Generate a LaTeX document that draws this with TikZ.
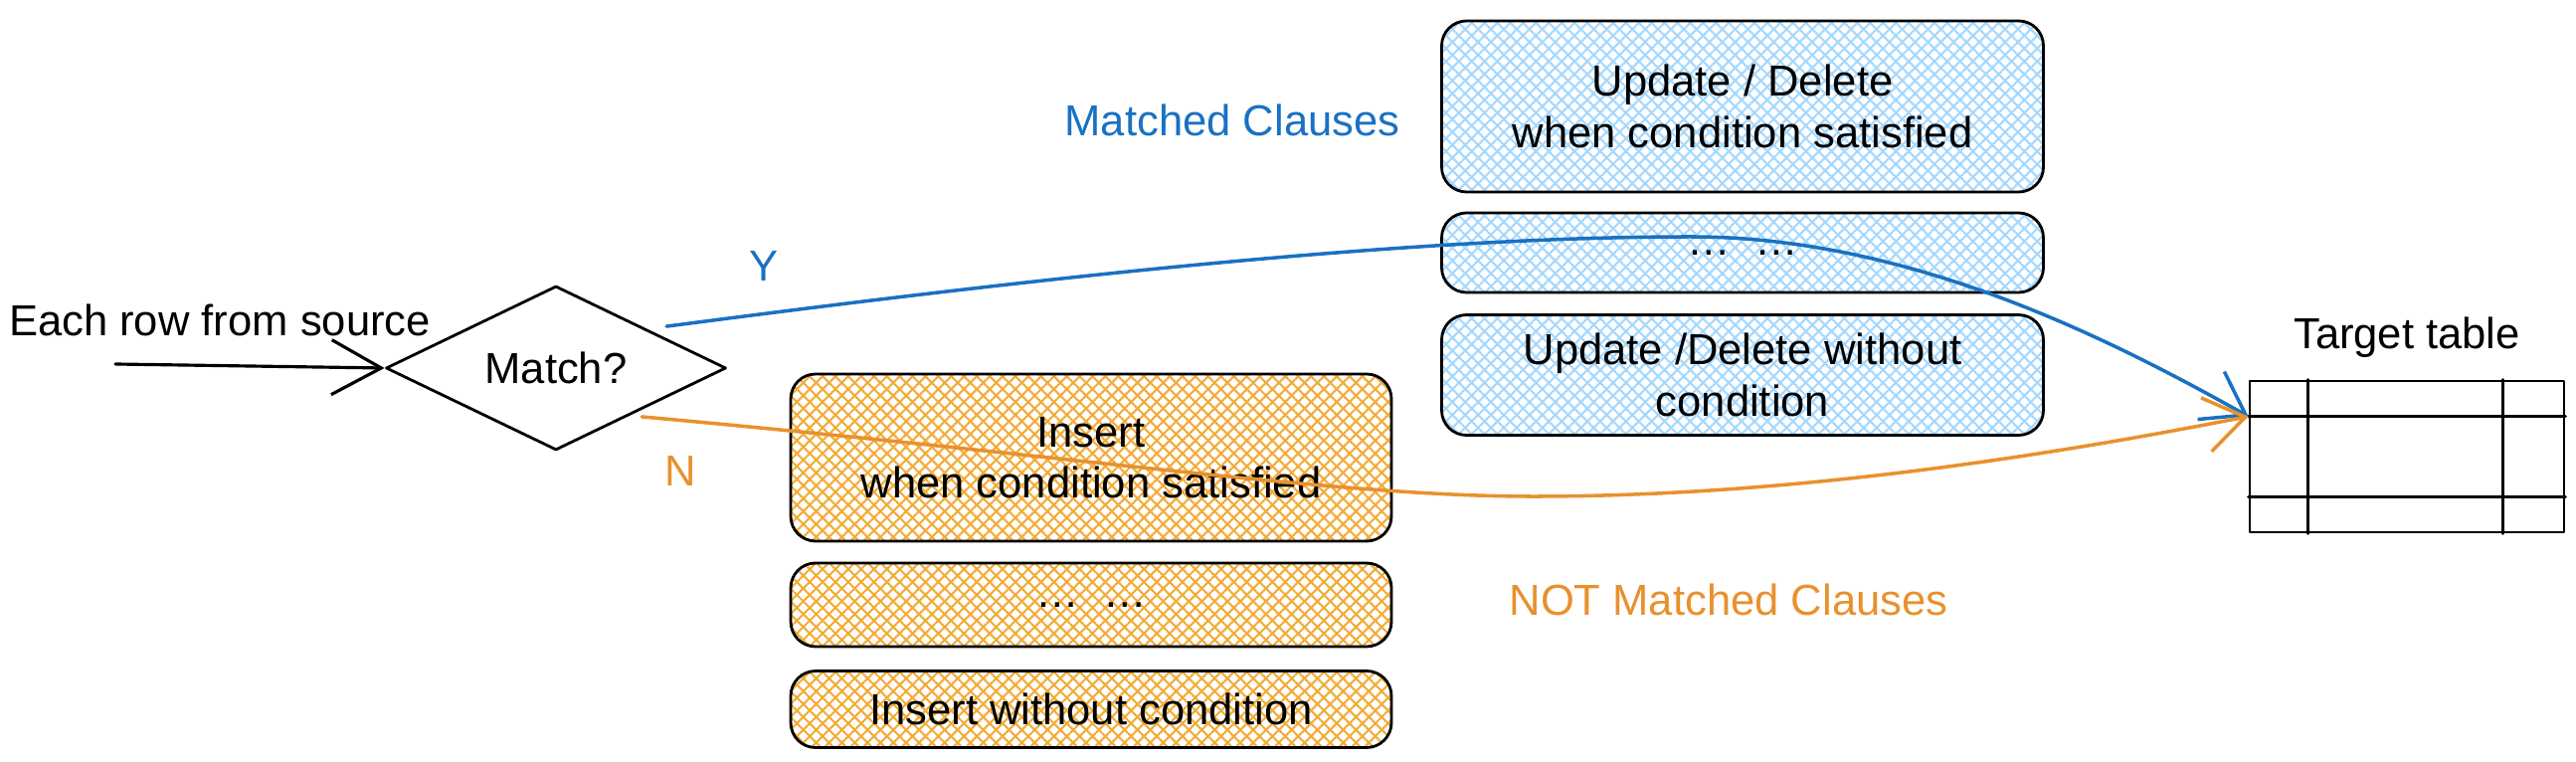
\documentclass[tikz,border=0pt]{standalone}
\usepackage{fontspec}
\setmainfont{Liberation Sans}
\usetikzlibrary{arrows.meta,patterns.meta,positioning,shapes.geometric}
\definecolor{clauseblue}{HTML}{1971C2}
\definecolor{clauseorange}{HTML}{E8912D}
\definecolor{hatchblue}{HTML}{A5D8FF}
\definecolor{hatchorange}{HTML}{F2AC38}

\tikzset{
  every node/.style={font=\fontsize{12.4}{14.6}\selectfont},
  sketch/.style={line width=0.8pt,line cap=round,line join=round},
  bluebox/.style={sketch,draw=black,rounded corners=0.25cm,align=center,
    pattern={Hatch[angle=45,distance=2.6pt,line width=0.6pt]},pattern color=hatchblue,
    minimum width=6.05cm,inner sep=0pt},
  orangebox/.style={bluebox,pattern color=hatchorange,minimum width=6.04cm},
  flowarrow/.style={line width=1pt,line cap=round,-{Straight Barb[length=4mm,width=5.5mm]}},
}

\begin{document}
\begin{tikzpicture}
  \useasboundingbox (0,0) rectangle (25.9,-7.66);
  % Decision
  \node[anchor=center] (srclbl) at (2.21,-3.22) {Each row from source};
  \coordinate (src) at (1.16,-3.66);
  \node[sketch,draw,diamond,aspect=2,minimum width=3.42cm,minimum height=1.65cm,inner sep=0pt] (match) at (5.59,-3.70) {Match?};
  \draw[flowarrow,line width=0.9pt,-{Straight Barb[length=5mm,width=5.5mm]}] (src) -- (match.west);
  % Matched clauses
  \node[clauseblue] (matchedlbl) at (12.39,-1.21) {Matched Clauses};
  \node[bluebox,minimum height=1.72cm] (upd1) at (17.52,-1.07) {Update / Delete\\when condition satisfied};
  \node[bluebox,minimum height=0.80cm] (upd2) at (17.52,-2.54) {\dots\ \ \dots};
  \node[bluebox,minimum height=1.21cm] (upd3) at (17.52,-3.77) {Update /Delete without\\condition};
  % Not matched clauses
  \node[orangebox,minimum height=1.68cm] (ins1) at (10.97,-4.60) {Insert\\when condition satisfied};
  \node[orangebox,minimum height=0.84cm] (ins2) at (10.97,-6.08) {\dots\ \ \dots};
  \node[orangebox,minimum height=0.77cm] (ins3) at (10.97,-7.13) {Insert without condition};
  \node[clauseorange] (notmatchedlbl) at (17.38,-6.03) {NOT Matched Clauses};
  % Target table
  \node[sketch,draw,minimum width=3.16cm,minimum height=1.52cm,inner sep=0pt] (target) at (24.20,-4.59) {};
  \node[above=0.1cm of target] (targetlbl) {Target table};
  \draw[sketch] ([xshift=0.60cm]target.north west) -- ([xshift=0.60cm]target.south west);
  \draw[sketch] ([xshift=-0.63cm]target.north east) -- ([xshift=-0.63cm]target.south east);
  \draw[sketch] ([yshift=-0.37cm]target.north west) -- ([yshift=-0.37cm]target.north east);
  \draw[sketch] ([yshift=0.37cm]target.south west) -- ([yshift=0.37cm]target.south east);
  \coordinate (tin) at ([yshift=-0.37cm]target.north west);
  % Branches
  \node[clauseblue] (ylbl) at (7.68,-2.68) {Y};
  \node[clauseorange] (nlbl) at (6.84,-4.74) {N};
  \draw[flowarrow,clauseblue] ([xshift=0.25cm]match.north east)
    .. controls (10,-2.85) and (14,-2.38) .. (17,-2.38)
    .. controls (19.2,-2.38) and (21.2,-3.4) .. (tin);
  \draw[flowarrow,clauseorange] ([yshift=-0.07cm]match.south east)
    .. controls (11,-4.6) and (13.5,-5.0) .. (15.5,-4.99)
    .. controls (18,-4.98) and (20.5,-4.6) .. (tin);
\end{tikzpicture}
\end{document}
